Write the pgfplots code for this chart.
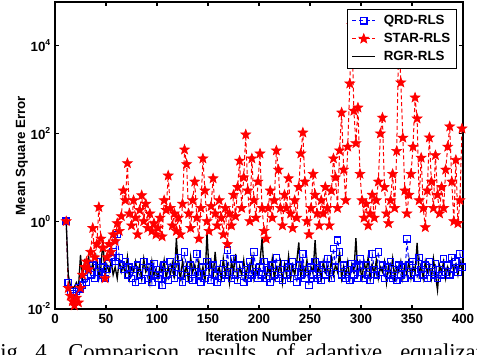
\documentclass[border=0pt]{standalone}
\usepackage{fontspec}
\setmainfont{Liberation Sans}
\newfontfamily\capfont{Liberation Serif}
\usepackage{pgfplots}
\pgfplotsset{compat=1.18}
\usepackage{pgfplotstable}

\pgfdeclareplotmark{fstar}{%
 \pgfpathmoveto{\pgfpointpolar{90}{\pgfplotmarksize}}%
 \pgfpathlineto{\pgfpointpolar{126}{0.42\pgfplotmarksize}}%
 \pgfpathlineto{\pgfpointpolar{162}{\pgfplotmarksize}}%
 \pgfpathlineto{\pgfpointpolar{198}{0.42\pgfplotmarksize}}%
 \pgfpathlineto{\pgfpointpolar{234}{\pgfplotmarksize}}%
 \pgfpathlineto{\pgfpointpolar{270}{0.42\pgfplotmarksize}}%
 \pgfpathlineto{\pgfpointpolar{306}{\pgfplotmarksize}}%
 \pgfpathlineto{\pgfpointpolar{342}{0.42\pgfplotmarksize}}%
 \pgfpathlineto{\pgfpointpolar{18}{\pgfplotmarksize}}%
 \pgfpathlineto{\pgfpointpolar{54}{0.42\pgfplotmarksize}}%
 \pgfpathclose
 \pgfusepathqfillstroke}

\pgfplotstableread{
x y
11 1.0
13 0.04
15 0.025
17 0.022
19 0.02
21 0.025
23 0.03
25 0.028
27 0.035
29 0.05
31 0.04
33 0.08
35 0.06
37 0.1
39 0.05
41 0.12
43 0.07
45 0.06
47 0.09
49 0.05
51 0.08
53 0.11
55 0.15
57 0.2
59 0.12
61 0.5
63 0.15
65 0.1
67 0.08
69 0.12
71 0.06
73 0.09
75 0.05
77 0.08
79 0.04
81 0.1
83 0.06
85 0.045
87 0.12
89 0.07
91 0.05
93 0.09
95 0.04
97 0.11
99 0.06
101 0.05
103 0.08
105 0.035
107 0.1
109 0.06
111 0.045
113 0.12
115 0.07
117 0.05
119 0.09
121 0.15
123 0.06
125 0.04
127 0.2
129 0.08
131 0.05
133 0.1
135 0.045
137 0.07
139 0.18
141 0.06
143 0.04
145 0.09
147 0.05
149 0.12
151 0.07
153 0.045
155 0.1
157 0.06
159 0.04
161 0.08
163 0.05
165 0.11
167 0.06
169 0.22
171 0.07
173 0.05
175 0.14
177 0.06
179 0.045
181 0.1
183 0.07
185 0.04
187 0.08
189 0.05
191 0.12
193 0.06
195 0.2
197 0.07
199 0.05
201 0.09
203 0.06
205 0.12
207 0.05
209 0.08
211 0.04
213 0.1
215 0.06
217 0.15
219 0.05
221 0.08
223 0.045
225 0.11
227 0.06
229 0.09
231 0.05
233 0.12
235 0.07
237 0.04
239 0.1
241 0.06
243 0.18
245 0.05
247 0.08
249 0.035
251 0.09
253 0.06
255 0.12
257 0.05
259 0.08
261 0.045
263 0.1
265 0.06
267 0.14
269 0.07
271 0.05
273 0.24
275 0.09
277 0.37
279 0.2
281 0.06
283 0.1
285 0.05
287 0.08
289 0.045
291 0.11
293 0.06
295 0.09
297 0.05
299 0.14
301 0.07
303 0.05
305 0.1
307 0.06
309 0.045
311 0.18
313 0.08
315 0.06
317 0.2
319 0.07
321 0.1
323 0.05
325 0.09
327 0.06
329 0.12
331 0.05
333 0.08
335 0.045
337 0.1
339 0.06
341 0.09
343 0.05
345 0.4
347 0.1
349 0.06
351 0.12
353 0.07
355 0.05
357 0.15
359 0.08
361 0.06
363 0.1
365 0.05
367 0.12
369 0.07
371 0.06
373 0.11
375 0.05
377 0.08
379 0.06
381 0.14
383 0.07
385 0.1
387 0.06
389 0.15
391 0.08
393 0.12
395 0.07
397 0.18
399 0.09
}\qrddata

\pgfplotstableread{
x y
11 1.0
13 0.03
15 0.02
17 0.015
19 0.012
21 0.018
23 0.014
25 0.03
27 0.06
29 0.09
31 0.12
33 0.08
35 0.2
37 0.7
39 0.15
41 0.3
43 2.1
45 0.4
47 0.25
49 0.05
51 0.15
53 0.3
55 0.2
57 0.5
59 0.35
61 0.9
63 0.6
65 1.3
67 5
69 3
71 21
73 1.5
75 0.8
77 3
79 1.2
81 0.5
83 1.8
85 3.9
87 1.0
89 2.5
91 0.7
93 1.5
95 0.6
97 0.9
99 0.5
101 0.7
103 1.2
105 0.45
107 3
109 1.8
111 11
113 2
115 0.8
117 1.5
119 0.6
121 1.2
123 0.5
125 2.5
127 43
129 20
131 1.5
133 0.7
135 3
137 8
139 1.2
141 0.4
143 2
145 27
147 5
149 1
151 0.6
153 2.2
155 9.5
157 1.5
159 0.8
161 3
163 1.2
165 0.5
167 2
169 0.3
171 1.5
173 0.8
175 4
177 1.3
179 6
181 24
183 2
185 10
187 95
189 5
191 1
193 27
195 3
197 1.2
199 8
201 35
203 2
205 0.6
207 0.4
209 2
211 5
213 1.2
215 3
217 41
219 15
221 2
223 0.8
225 4
227 2
229 9.5
231 1.5
233 0.7
235 3
237 1.2
239 6
241 35
243 105
245 8
247 1
249 0.5
251 2
253 12
255 4
257 1.5
259 0.8
261 3
263 1.5
265 6
267 2
269 0.8
271 5
273 27
275 10
277 2
279 41
281 300
283 15
285 3
287 50
289 1380
291 30000
293 330
295 60
297 390
299 12
301 3
303 1.2
305 2.5
307 0.8
309 1.5
311 4
313 1.2
315 3
317 8
319 100
321 230
323 6
325 1.5
327 0.9
329 3
331 12
333 2
335 40
337 20000
339 1460
341 80
343 5
345 1.5
347 4
349 12
351 50
353 660
355 220
357 3
359 28
361 2
363 0.73
365 5
367 81
369 8
371 2
373 32
375 4
377 1.5
379 6
381 2
383 15
385 50
387 145
389 8
391 1
393 25
395 0.9
397 3
399 130
}\stardata

\pgfplotstableread{
x y
11 1.0
13 0.06
15 0.035
17 0.03
19 0.032
21 0.04
23 0.03
25 0.17
27 0.05
29 0.12
31 0.08
33 0.15
35 0.07
37 0.11
39 0.06
41 0.14
43 0.05
45 0.09
47 0.37
49 0.06
51 0.1
53 0.07
55 0.12
57 0.06
59 0.09
61 0.05
63 0.13
65 0.07
67 0.1
69 0.06
71 0.15
73 0.05
75 0.09
77 0.07
79 0.12
81 0.06
83 0.1
85 0.05
87 0.14
89 0.07
91 0.09
93 0.04
95 0.12
97 0.06
99 0.08
101 0.05
103 0.1
105 0.07
107 0.13
109 0.05
111 0.09
113 0.06
115 0.11
117 0.05
119 0.41
121 0.08
123 0.05
125 0.12
127 0.06
129 0.1
131 0.04
133 0.15
135 0.07
137 0.1
139 0.05
141 0.12
143 0.06
145 0.09
147 0.04
149 0.56
151 0.07
153 0.12
155 0.05
157 0.2
159 0.06
161 0.09
163 0.05
165 0.14
167 0.06
169 0.1
171 0.04
173 0.12
175 0.07
177 0.18
179 0.05
181 0.09
183 0.06
185 0.13
187 0.05
189 0.1
191 0.07
193 0.15
195 0.05
197 0.09
199 0.06
201 0.12
203 0.41
205 0.07
207 0.05
209 0.1
211 0.06
213 0.14
215 0.05
217 0.09
219 0.07
221 0.12
223 0.04
225 0.1
227 0.06
229 0.16
231 0.05
233 0.09
235 0.06
237 0.12
239 0.33
241 0.05
243 0.1
245 0.06
247 0.13
249 0.05
251 0.09
253 0.07
255 0.37
257 0.06
259 0.1
261 0.05
263 0.12
265 0.07
267 0.09
269 0.05
271 0.14
273 0.06
275 0.1
277 0.07
279 0.2
281 0.05
283 0.09
285 0.06
287 0.12
289 0.05
291 0.1
293 0.07
295 0.41
297 0.06
299 0.09
301 0.05
303 0.12
305 0.07
307 0.15
309 0.05
311 0.1
313 0.06
315 0.13
317 0.05
319 0.09
321 0.07
323 0.12
325 0.04
327 0.1
329 0.06
331 0.14
333 0.05
335 0.09
337 0.07
339 0.12
341 0.05
343 0.1
345 0.06
347 0.13
349 0.05
351 0.09
353 0.07
355 0.32
357 0.06
359 0.1
361 0.05
363 0.12
365 0.07
367 0.09
369 0.05
371 0.14
373 0.06
375 0.027
377 0.1
379 0.07
381 0.12
383 0.05
385 0.09
387 0.06
389 0.13
391 0.07
393 0.1
395 0.06
397 0.12
399 0.08
}\rgrdata

\newcommand{\tkf}{\bfseries\fontsize{10}{12}\selectfont}
\newcommand{\tenpow}[1]{\textbf{10}\raisebox{0.85ex}{\fontsize{6.5}{7}\selectfont #1}}

\begin{document}
\begin{tikzpicture}[x=1pt,y=1pt]
\useasboundingbox (0,0) rectangle (357.75,265.5);
\begin{axis}[
  at={(41.25pt,33.75pt)}, anchor=south west,
  scale only axis, width=306pt, height=230.25pt,
  ymode=log, log basis y=10,
  xmin=0, xmax=400, ymin=1e-2, ymax=1e5,
  xtick={0,50,...,400},
  xticklabels={\textbf{0},\textbf{50},\textbf{100},\textbf{150},\textbf{200},\textbf{250},\textbf{300},\textbf{350},\textbf{400}},
  ytick={1e-2,1,1e2,1e4},
  yticklabels={\tenpow{-2},\tenpow{0},\tenpow{2},\tenpow{4}},
  yminorticks=false,
  tick align=inside, major tick length=3pt,
  axis line style={line width=1pt},
  every tick/.style={black, line width=0.8pt},
  ticklabel style={font=\tkf},
  xlabel={Iteration Number}, ylabel={Mean Square Error},
  every axis x label/.style={at={(axis description cs:0.5,-0.091)}, anchor=center, font=\tkf},
  every axis y label/.style={at={(axis description cs:-0.081,0.5)}, rotate=90, anchor=center, font=\tkf},
  legend style={at={(0.986,0.978)}, anchor=north east, draw=black, line width=0.6pt,
    font=\tkf, inner xsep=3pt, inner ysep=2.5pt, row sep=1pt, fill=white},
  legend cell align=left,
]
\addplot[blue, line width=0.75pt, dash pattern=on 3pt off 2pt, mark=square, mark size=2.4pt,
  mark options={solid, line width=0.9pt}] table[x=x,y=y] {\qrddata};
\addlegendentry{\hspace{4pt}QRD-RLS\hspace{10pt}}
\addplot[red, line width=0.75pt, dash pattern=on 3pt off 2pt, mark=fstar, mark size=3.8pt,
  mark options={solid, fill=red, line width=0.5pt}] table[x=x,y=y] {\stardata};
\addlegendentry{\hspace{4pt}STAR-RLS\hspace{10pt}}
\addplot[black, line width=1pt] table[x=x,y=y] {\rgrdata};
\addlegendentry{\hspace{4pt}RGR-RLS\hspace{10pt}}
\end{axis}
\begin{scope}
\clip (0,0) rectangle (357.75,265.5);
\begin{scope}[every node/.style={anchor=base west, inner sep=0pt, font=\capfont\fontsize{17}{20}\selectfont}]
\node at (-9.45,-4) {Fig.};
\node at (26.25,-4) {4.};
\node at (51,-4) {Comparison};
\node at (147.75,-4) {results};
\node at (207,-4) {of};
\node at (228.75,-4) {adaptive};
\node at (300,-4) {equalization};
\end{scope}
\end{scope}
\end{tikzpicture}
\end{document}
